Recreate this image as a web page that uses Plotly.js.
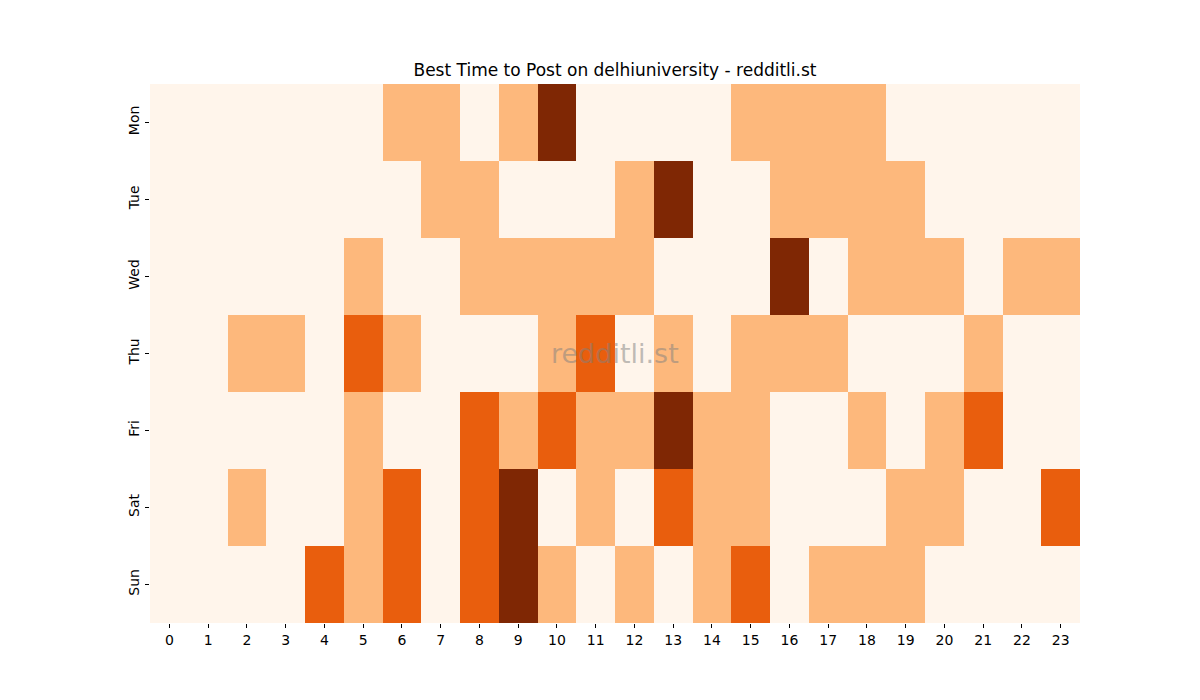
<!DOCTYPE html>
<html>
<head>
<meta charset="utf-8">
<script src="https://cdn.plot.ly/plotly-3.0.1.min.js"></script>
<style>
  html, body { margin: 0; padding: 0; background: #fff; }
  #chart { width: 1200px; height: 700px; }
</style>
</head>
<body>
<div id="chart"></div>
<script>
const hours = [0, 1, 2, 3, 4, 5, 6, 7, 8, 9, 10, 11, 12, 13, 14, 15, 16, 17, 18, 19, 20, 21, 22, 23];
const days = ['Mon', 'Tue', 'Wed', 'Thu', 'Fri', 'Sat', 'Sun'];

const mon = [0,0,0,0,0,0,1,1,0,1,3,0,0,0,0,1,1,1,1,0,0,0,0,0];
const tue = [0,0,0,0,0,0,0,1,1,0,0,0,1,3,0,0,1,1,1,1,0,0,0,0];
const wed = [0,0,0,0,0,1,0,0,1,1,1,1,1,0,0,0,3,0,1,1,1,0,1,1];
const thu = [0,0,1,1,0,2,1,0,0,0,1,2,0,1,0,1,1,1,0,0,0,1,0,0];
const fri = [0,0,0,0,0,1,0,0,2,1,2,1,1,3,1,1,0,0,1,0,1,2,0,0];
const sat = [0,0,1,0,0,1,2,0,2,3,0,1,0,2,1,1,0,0,0,1,1,0,0,2];
const sun = [0,0,0,0,2,1,2,0,2,3,1,0,1,0,1,2,0,1,1,1,0,0,0,0];

const z = [mon, tue, wed, thu, fri, sat, sun];

// matplotlib "Oranges" sampled at 0, 1/3, 2/3, 1
const oranges = [
    [0, '#fff5eb'],
    [1/3, '#fdb87c'],
    [2/3, '#e95e0d'],
    [1, '#7f2704']
];

const heat = [{
    type: 'heatmap',
    x: hours,
    y: days,
    z: z,
    zmin: 0,
    zmax: 3,
    colorscale: oranges,
    showscale: false,
    hoverinfo: 'none'
}];

const tickFont = { family: 'DejaVu Sans', size: 14, color: '#000' };

const layout = {
    width: 1200,
    height: 700,
    margin: { l: 150, r: 120, t: 84, b: 77 },
    paper_bgcolor: '#fff',
    plot_bgcolor: '#fff',
    font: { family: 'DejaVu Sans', color: '#000' },
    title: {
        text: 'Best Time to Post on delhiuniversity - redditli.st',
        font: { family: 'DejaVu Sans', size: 17, color: '#000' },
        x: 0.5125,
        xanchor: 'center',
        yref: 'container',
        y: 1 - 70 / 700,
        yanchor: 'middle'
    },
    xaxis: {
        tickmode: 'array',
        tickvals: hours,
        ticktext: hours.map(String),
        ticks: 'outside',
        ticklen: 4,
        tickwidth: 1,
        tickcolor: '#000',
        tickfont: tickFont,
        showgrid: false,
        zeroline: false,
        showline: false
    },
    yaxis: {
        autorange: 'reversed',
        tickmode: 'array',
        tickvals: days,
        ticktext: days,
        ticks: 'outside',
        ticklen: 4,
        tickwidth: 1,
        tickcolor: '#000',
        tickangle: -90,
        tickfont: tickFont,
        showgrid: false,
        zeroline: false,
        showline: false
    },
    annotations: [{
        text: 'redditli.st',
        xref: 'paper',
        yref: 'paper',
        x: 0.5,
        y: 0.5,
        xanchor: 'center',
        yanchor: 'middle',
        showarrow: false,
        font: { family: 'DejaVu Sans', size: 27, color: 'rgba(128,128,128,0.5)' }
    }]
};

Plotly.newPlot('chart', heat, layout, { displayModeBar: false, staticPlot: true });
</script>
</body>
</html>
